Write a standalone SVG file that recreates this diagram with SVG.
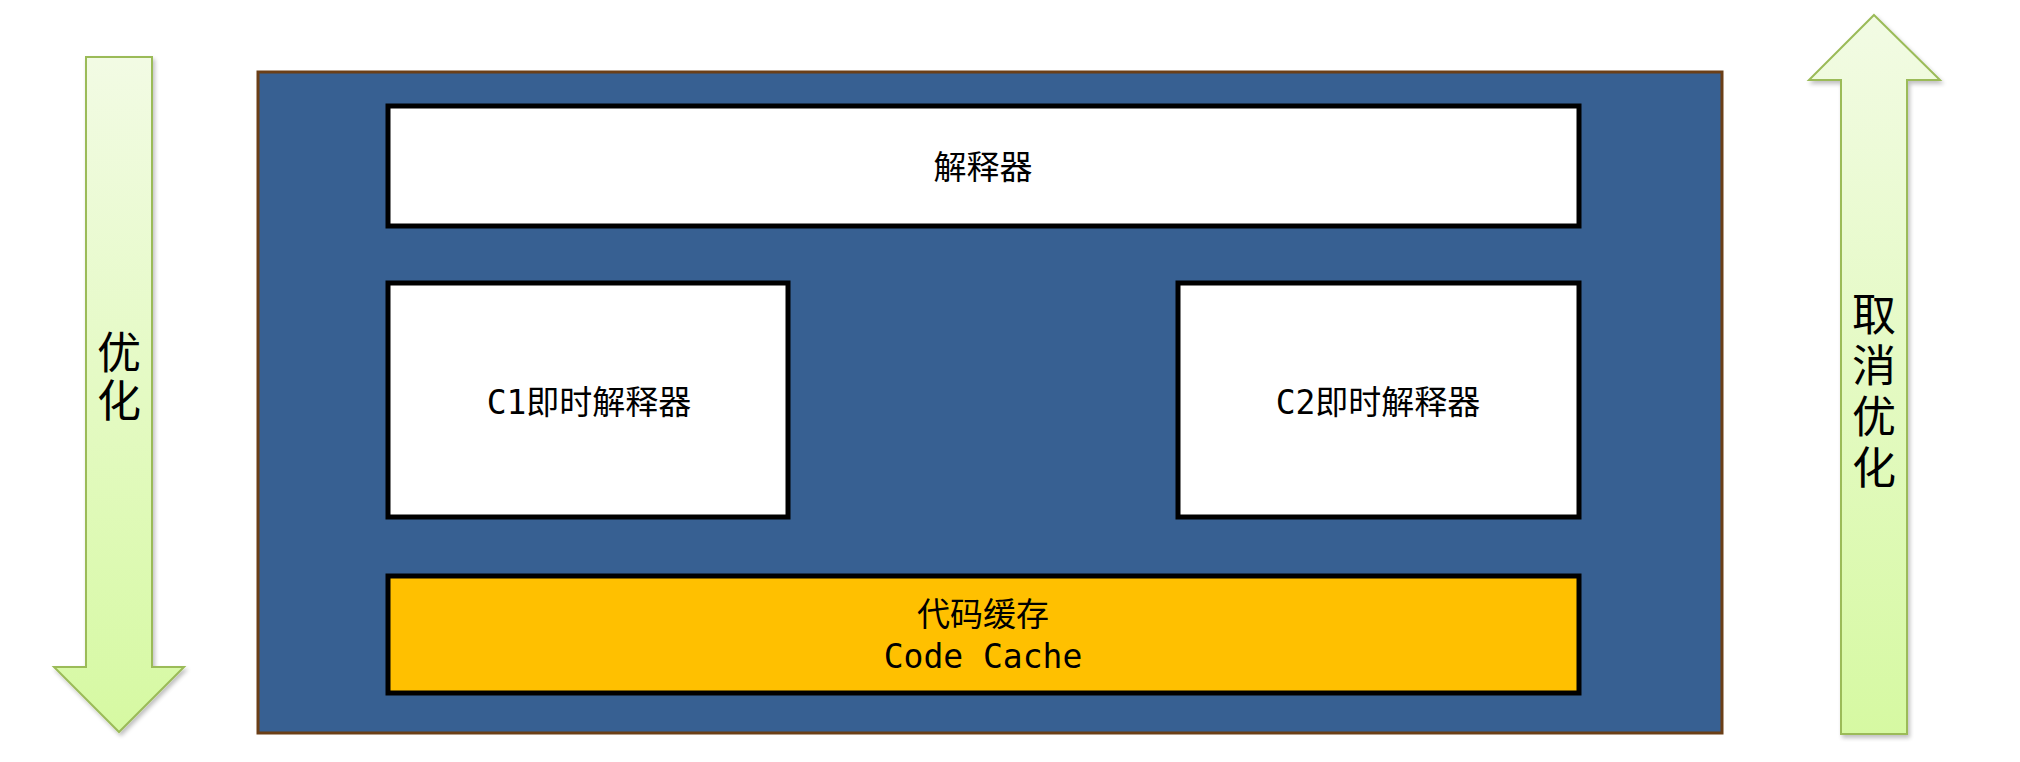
<svg xmlns="http://www.w3.org/2000/svg" width="2020" height="762" viewBox="0 0 2020 762">
<defs>
<linearGradient id="g" x1="0" y1="0" x2="0" y2="1">
<stop offset="0" stop-color="#f2fbe4"/>
<stop offset="1" stop-color="#d6f9a2"/>
</linearGradient>
<filter id="sh" x="-20%" y="-5%" width="140%" height="110%">
<feGaussianBlur in="SourceAlpha" stdDeviation="2"/>
<feOffset dx="2" dy="3"/>
<feComponentTransfer><feFuncA type="linear" slope="0.25"/></feComponentTransfer>
<feMerge><feMergeNode/><feMergeNode in="SourceGraphic"/></feMerge>
</filter>
</defs>
<style>
.arrow{fill:url(#g);stroke:#9bbb59;stroke-width:2;filter:url(#sh)}
.box{fill:#ffffff;stroke:#000000;stroke-width:5}
.t{font-family:"DejaVu Sans Mono","Noto Sans CJK SC",monospace;font-size:33px;fill:#000;text-anchor:middle;dominant-baseline:central}
.v{font-family:"Noto Sans CJK SC",sans-serif;font-size:44px;fill:#000;text-anchor:middle;writing-mode:vertical-rl;text-orientation:upright}
</style>
<g id="arrow-down">
<polygon class="arrow" points="86,57 152,57 152,667 184,667 119,732 54,667 86,667"/>
<text class="v" x="119" y="378" letter-spacing="4">优化</text>
</g>
<g id="arrow-up">
<polygon class="arrow" points="1874,15 1940,80 1907,80 1907,734 1841,734 1841,80 1809,80"/>
<text class="v" x="1874" y="394" letter-spacing="7">取消优化</text>
</g>
<g id="jvm">
<rect x="258" y="72" width="1464" height="661" fill="#376092" stroke="#6b3f17" stroke-width="3"/>
</g>
<g id="interpreter">
<rect class="box" x="388" y="106" width="1191" height="120"/>
<text class="t" x="983" y="167">解释器</text>
</g>
<g id="c1">
<rect class="box" x="388" y="283" width="400" height="234"/>
<text class="t" x="589" y="402">C1即时解释器</text>
</g>
<g id="c2">
<rect class="box" x="1178" y="283" width="401" height="234"/>
<text class="t" x="1378" y="402">C2即时解释器</text>
</g>
<g id="codecache">
<rect x="388" y="576" width="1191" height="117" fill="#ffc000" stroke="#000" stroke-width="5"/>
<text class="t" x="983" y="614">代码缓存</text>
<text class="t" x="983" y="656">Code Cache</text>
</g>
<g id="connectors"/>
</svg>
